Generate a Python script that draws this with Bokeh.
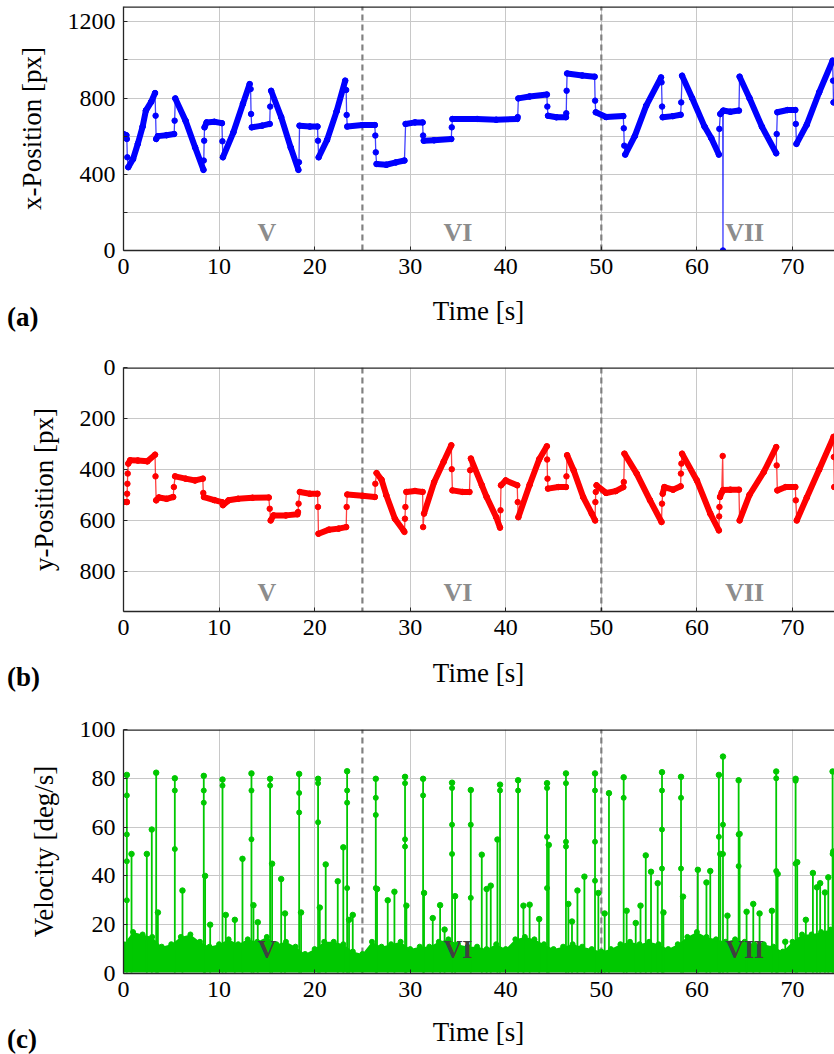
import numpy as np
from bokeh.plotting import figure
from bokeh.layouts import column
from bokeh.models import Range1d, FixedTicker, Label, Div
from bokeh.embed import file_html
from bokeh.resources import INLINE

# ---------------- data ----------------
x_ticks = [0, 10, 20, 30, 40, 50, 60, 70]
section_bounds = [25, 50]
section_names = ["V", "VI", "VII"]
section_label_t = [15, 35, 65]

# (a) x-position [px]  (time [s], value)
xpos = [(0.0, 611), (0.3, 605), (0.35, 585), (0.4, 489), (0.5, 437), (1.0, 480), (1.5, 560),
        (2.0, 650), (2.34, 734), (2.9, 780), (3.3, 826), (3.36, 707), (3.42, 585), (3.6, 600),
        (4.5, 605), (5.3, 611), (5.35, 681), (5.42, 798), (6.5, 680), (7.5, 540), (8.37, 423),
        (8.4, 472), (8.44, 576), (8.48, 646), (8.7, 672), (9.5, 675), (10.3, 668), (10.35, 573),
        (10.4, 489), (11.5, 620), (12.5, 770), (13.2, 873), (13.3, 847), (13.35, 716), (13.42, 646),
        (14.5, 655), (15.3, 664), (15.35, 755), (15.45, 838), (16.5, 700), (17.5, 540), (18.3, 423),
        (18.36, 463), (18.42, 655), (19.5, 650), (20.3, 650), (20.35, 576), (20.42, 489), (21.3, 580),
        (22.3, 730), (23.2, 891), (23.3, 842), (23.35, 711), (23.42, 650), (25.0, 658), (26.3, 658),
        (26.35, 603), (26.4, 515), (26.48, 454), (27.5, 450), (28.5, 462), (29.4, 472), (29.52, 664),
        (30.5, 672), (31.3, 672), (31.35, 603), (31.42, 576), (32.5, 578), (34.3, 585), (34.35, 646),
        (34.42, 690), (37.0, 690), (39.0, 686), (41.2, 690), (41.25, 700), (41.32, 798), (42.5, 808),
        (44.3, 818), (44.35, 755), (44.42, 707), (45.3, 699), (46.3, 699), (46.33, 720), (46.37, 838),
        (46.42, 929), (48.0, 918), (49.3, 912), (49.35, 786), (49.42, 725), (50.5, 700), (52.3, 705),
        (52.35, 641), (52.4, 550), (52.5, 503), (53.5, 600), (54.7, 760), (56.25, 908), (56.3, 882),
        (56.36, 755), (56.42, 699), (57.5, 705), (58.3, 712), (58.36, 777), (58.45, 917), (59.5, 800),
        (60.8, 650), (61.5, 590), (62.3, 503), (62.35, 638), (62.45, 716), (62.7, 730), (62.73, 0),
        (62.76, 734), (63.5, 728), (64.4, 734), (64.47, 912), (65.5, 800), (66.8, 650), (68.3, 510),
        (68.35, 611), (68.42, 725), (69.5, 737), (70.3, 737), (70.35, 664), (70.42, 559), (71.5, 660),
        (72.8, 830), (74.2, 996), (74.25, 891), (74.3, 777), (75.0, 780)]

# (b) y-position [px]
ypos = [(0.0, 528), (0.35, 528), (0.38, 495), (0.41, 456), (0.44, 416), (0.5, 377), (0.7, 364),
        (1.5, 365), (2.5, 368), (3.3, 342), (3.35, 427), (3.42, 521), (3.7, 510), (4.5, 515),
        (5.2, 508), (5.27, 469), (5.4, 427), (6.5, 436), (7.5, 443), (8.3, 436), (8.35, 492),
        (8.42, 508), (9.5, 520), (10.3, 528), (10.4, 540), (11.0, 521), (12.0, 515), (13.5, 511),
        (15.2, 510), (15.3, 554), (15.4, 600), (15.7, 580), (17.0, 580), (18.2, 576), (18.26, 567),
        (18.32, 534), (18.45, 488), (19.5, 495), (20.3, 495), (20.35, 547), (20.4, 652), (21.5, 636),
        (22.5, 632), (23.3, 626), (23.35, 547), (23.42, 498), (25.0, 503), (26.3, 508), (26.35, 456),
        (26.48, 414), (27.0, 440), (27.5, 501), (28.4, 593), (29.3, 639), (29.4, 645), (29.45, 593),
        (29.5, 547), (29.6, 488), (30.5, 484), (31.3, 488), (31.35, 626), (31.45, 573), (32.5, 450),
        (33.5, 370), (34.3, 305), (34.35, 399), (34.42, 482), (35.5, 488), (36.2, 488), (36.27, 403),
        (36.35, 357), (37.5, 462), (38.0, 508), (39.0, 587), (39.4, 628), (39.45, 560), (39.5, 462),
        (40.0, 443), (41.2, 462), (41.25, 528), (41.32, 587), (42.5, 460), (43.5, 360), (44.3, 309),
        (44.33, 361), (44.37, 436), (44.42, 475), (45.5, 469), (46.3, 469), (46.35, 427), (46.42, 344),
        (47.1, 403), (48.1, 508), (49.0, 573), (49.35, 600), (49.38, 528), (49.42, 488), (49.5, 462),
        (50.5, 492), (51.5, 485), (52.3, 469), (52.35, 449), (52.42, 338), (53.7, 416), (55.1, 521),
        (56.3, 606), (56.35, 534), (56.42, 495), (56.6, 469), (57.5, 479), (58.3, 466), (58.33, 416),
        (58.38, 377), (58.45, 338), (60.0, 443), (61.4, 573), (62.3, 639), (62.33, 584), (62.36, 547),
        (62.42, 508), (62.6, 490), (62.7, 347), (62.75, 480), (63.5, 479), (64.4, 479), (64.47, 600),
        (65.5, 500), (67.0, 410), (68.3, 312), (68.35, 384), (68.42, 482), (69.3, 469), (70.3, 469),
        (70.35, 521), (70.45, 600), (71.5, 510), (72.8, 400), (74.3, 272), (74.33, 351), (74.38, 469),
        (75.0, 470)]

# (c) velocity [deg/s]: saccade spikes (time, peak) and the upper edge of the dense noise band
vel_spikes = [(0.35, 81.4), (0.84, 49), (2.44, 49), (2.96, 59), (3.42, 82.3), (3.6, 25), (5.37, 80),
              (6.17, 34), (8.4, 81), (8.54, 40), (9.07, 20), (10.36, 79.5), (10.7, 24), (11.65, 22),
              (12.45, 47), (13.39, 82), (13.6, 28), (14.05, 21), (15.34, 79.8), (15.55, 45),
              (16.5, 38.7), (16.9, 24.6), (18.38, 81.8), (18.58, 25), (20.36, 79.8), (20.54, 27),
              (21.16, 44.7), (22.42, 37.8), (23.0, 51.7), (23.4, 82.9), (23.6, 22), (23.99, 24),
              (26.4, 79.8), (26.53, 34.6), (27.65, 30), (28.35, 33.5), (29.46, 80.6), (29.6, 27.8),
              (31.35, 79.8), (31.45, 33), (32.36, 22.7), (33.13, 28), (33.6, 18), (34.38, 78.2),
              (34.7, 31.7), (36.34, 75.2), (37.49, 48.7), (38.0, 34.6), (38.43, 36), (39.13, 54.9),
              (39.4, 77.4), (41.29, 79.2), (41.85, 27.8), (42.5, 28.2), (43.5, 22.3), (44.32, 78),
              (44.5, 52.7), (46.3, 82), (46.55, 28.5), (46.93, 21.3), (47.5, 34), (48.23, 39.7),
              (49.34, 82), (49.69, 33), (50.35, 24.6), (50.8, 73.9), (52.34, 80.4), (52.65, 25.7),
              (53.6, 20.7), (54.1, 27.8), (54.65, 48.4), (55.2, 41.7), (55.9, 37), (56.35, 82.5),
              (56.5, 25), (58.34, 80.6), (58.55, 31.5), (60.1, 42.5), (61.0, 37.3), (61.4, 42),
              (62.3, 81.4), (62.45, 49), (62.73, 88.9), (63.2, 23.7), (64.37, 79.2), (64.47, 57.2),
              (65.2, 25.3), (65.9, 28.5), (66.56, 24.6), (67.85, 25.7), (68.3, 82.8), (68.45, 40.8),
              (69.25, 13), (70.33, 79.8), (70.5, 45.6), (71.4, 22), (72.14, 41.2), (72.56, 35.3),
              (72.9, 37), (73.4, 33.2), (73.75, 39.4), (74.2, 82.8), (74.27, 50)]
# samples lying part-way up the saccade spikes
vel_mid = [(0.35, 73), (0.35, 57), (0.35, 46), (0.35, 30), (5.37, 75), (5.37, 51), (8.4, 75),
           (8.4, 70), (10.36, 77), (13.39, 75), (13.39, 55), (15.34, 77), (18.38, 74), (18.38, 66),
           (20.36, 78), (20.36, 62), (23.4, 75), (23.4, 70), (23.4, 35), (26.4, 72), (26.4, 65),
           (26.4, 35), (29.46, 78), (29.46, 55), (29.46, 52), (31.35, 73), (34.38, 76), (34.38, 61),
           (34.38, 49), (36.34, 61), (36.34, 31), (39.4, 75), (41.29, 75), (44.32, 76), (44.32, 56),
           (44.32, 35), (46.3, 78), (46.3, 54), (46.3, 52), (49.34, 75), (49.34, 54), (49.34, 38),
           (52.34, 72), (56.35, 75), (56.35, 59), (56.35, 43), (58.34, 72), (58.34, 43), (62.3, 56),
           (62.73, 61), (62.73, 49), (64.37, 57), (64.37, 44), (68.3, 80), (68.3, 42), (70.33, 79),
           (70.33, 45), (74.2, 49)]
band_t = list(range(0, 76))
band_top = [12, 17, 16, 15, 11, 12, 15, 16, 13, 11, 12, 14, 12, 14, 13, 15, 12, 13, 11, 8,
            10, 13, 13, 12, 9, 8, 13, 11, 12, 13, 10, 11, 11, 13, 14, 12, 11, 11, 10, 12,
            10, 14, 15, 14, 12, 10, 11, 12, 11, 10, 9, 10, 12, 13, 12, 13, 12, 10, 12, 15,
            17, 15, 14, 13, 14, 13, 12, 12, 11, 9, 13, 16, 16, 17, 18, 17]
band_bottom = 0.4

# ---------------- styling ----------------
SERIF = "Liberation Serif"
TICK_FS = "24px"
GRID = "#c8c8c8"
AXIS = "#262626"
X_END = 74.4
W = 834


def make_fig(height, top, bottom, y_range, yticks, yminor, ylabel):
    p = figure(width=W, height=height, x_range=Range1d(0, X_END), y_range=y_range,
               output_backend="svg", toolbar_location=None,
               min_border_left=123, min_border_right=0, min_border_top=top, min_border_bottom=bottom)
    p.outline_line_color = None
    p.background_fill_color = "white"
    p.border_fill_color = "white"
    p.xaxis.ticker = FixedTicker(ticks=x_ticks)
    p.yaxis.ticker = FixedTicker(ticks=yticks, minor_ticks=yminor)
    for ax in (p.xaxis[0], p.yaxis[0]):
        ax.major_label_text_font = SERIF
        ax.major_label_text_font_size = TICK_FS
        ax.major_label_text_color = "black"
        ax.axis_label_text_font = SERIF
        ax.axis_label_text_font_size = "27px"
        ax.axis_label_text_font_style = "normal"
        ax.axis_label_text_color = "black"
        ax.axis_line_color = AXIS
        ax.axis_line_width = 1.3
        ax.major_tick_in = 4
        ax.major_tick_out = 0
        ax.minor_tick_in = 4
        ax.minor_tick_out = 0
        ax.major_tick_line_color = AXIS
        ax.minor_tick_line_color = AXIS
        ax.major_label_standoff = 8
    p.yaxis.axis_label = ylabel
    p.yaxis.axis_label_standoff = 18
    p.xgrid.grid_line_color = GRID
    p.ygrid.grid_line_color = GRID
    p.ygrid.minor_grid_line_color = GRID
    # section separators
    lo, hi = min(y_range.start, y_range.end), max(y_range.start, y_range.end)
    p.segment(x0=section_bounds, y0=[lo] * 2, x1=section_bounds, y1=[hi] * 2,
              line_color="#808080", line_width=2.2, line_dash="6 4")
    return p


def top_border(p):
    yt = p.y_range.end
    p.segment(x0=[0], y0=[yt], x1=[X_END], y1=[yt], line_color=AXIS, line_width=2.6)


def draw_trace(p, pts, color):
    t = np.array([a for a, _ in pts], dtype=float)
    v = np.array([b for _, b in pts], dtype=float)
    p.line(t, v, line_color=color, line_width=1.3, line_alpha=0.75)
    dt = np.diff(t)
    dense = dt >= 0.15
    p.segment(x0=t[:-1][dense], y0=v[:-1][dense], x1=t[1:][dense], y1=v[1:][dense],
              line_color=color, line_width=6, line_cap="round")
    p.scatter(t, v, size=5.5, fill_color=color, line_color=color)


def add_sections(p, y, color):
    for name, tx in zip(section_names, section_label_t):
        p.add_layout(Label(x=tx, y=y, text=name, text_align="center", text_baseline="middle",
                           text_font=SERIF, text_font_style="bold", text_font_size="26px",
                           text_color=color))


def caption_row(tag, height, tag_top, label_top):
    html = (
        f'<div style="position:relative;width:{W}px;height:{height}px;'
        f'font-family:\'{SERIF}\';font-size:27px;line-height:27px;color:black;">'
        f'<span style="position:absolute;left:7px;top:{tag_top}px;font-weight:bold;">{tag}</span>'
        f'<span style="position:absolute;left:123px;width:711px;top:{label_top}px;'
        f'text-align:center;">Time [s]</span></div>'
    )
    return Div(text=html, width=W, height=height, margin=0)


# (a)
pa = make_fig(290, 6, 40, Range1d(0, 1280), [0, 400, 800, 1200], [200, 600, 1000], "x-Position [px]")
draw_trace(pa, xpos, "#0000ff")
add_sections(pa, 95, "#8c8c8c")
top_border(pa)

# (b)
pb = make_fig(305, 22, 39, Range1d(957, 0), [0, 200, 400, 600, 800], [], "y-Position [px]")
draw_trace(pb, ypos, "#ff0000")
add_sections(pb, 882, "#8c8c8c")
top_border(pb)

# (c)
pc = make_fig(307, 24, 39, Range1d(0, 100), [0, 20, 40, 60, 80, 100], [], "Velocity [deg/s]")
GREEN = "#00c800"
pc.varea(x=band_t, y1=[band_bottom] * len(band_t), y2=band_top, fill_color=GREEN)
pc.scatter(band_t, band_top, size=5, fill_color=GREEN, line_color=GREEN)
st = [a for a, _ in vel_spikes]
sv = [b for _, b in vel_spikes]
pc.segment(x0=st, y0=[band_bottom] * len(st), x1=st, y1=sv, line_color=GREEN, line_width=1.8)
pc.scatter(st, sv, size=5.5, fill_color=GREEN, line_color=GREEN)
pc.scatter([a for a, _ in vel_mid], [b for _, b in vel_mid], size=5, fill_color=GREEN, line_color=GREEN)
add_sections(pc, 10, "#404040")
top_border(pc)

layout = column(
    pa, caption_row("(a)", 55, 14, 8),
    pb, caption_row("(b)", 55, 14, 10),
    pc, caption_row("(c)", 42, 14, 7),
    spacing=0,
)
open("out.html", "w").write(file_html(layout, INLINE))
